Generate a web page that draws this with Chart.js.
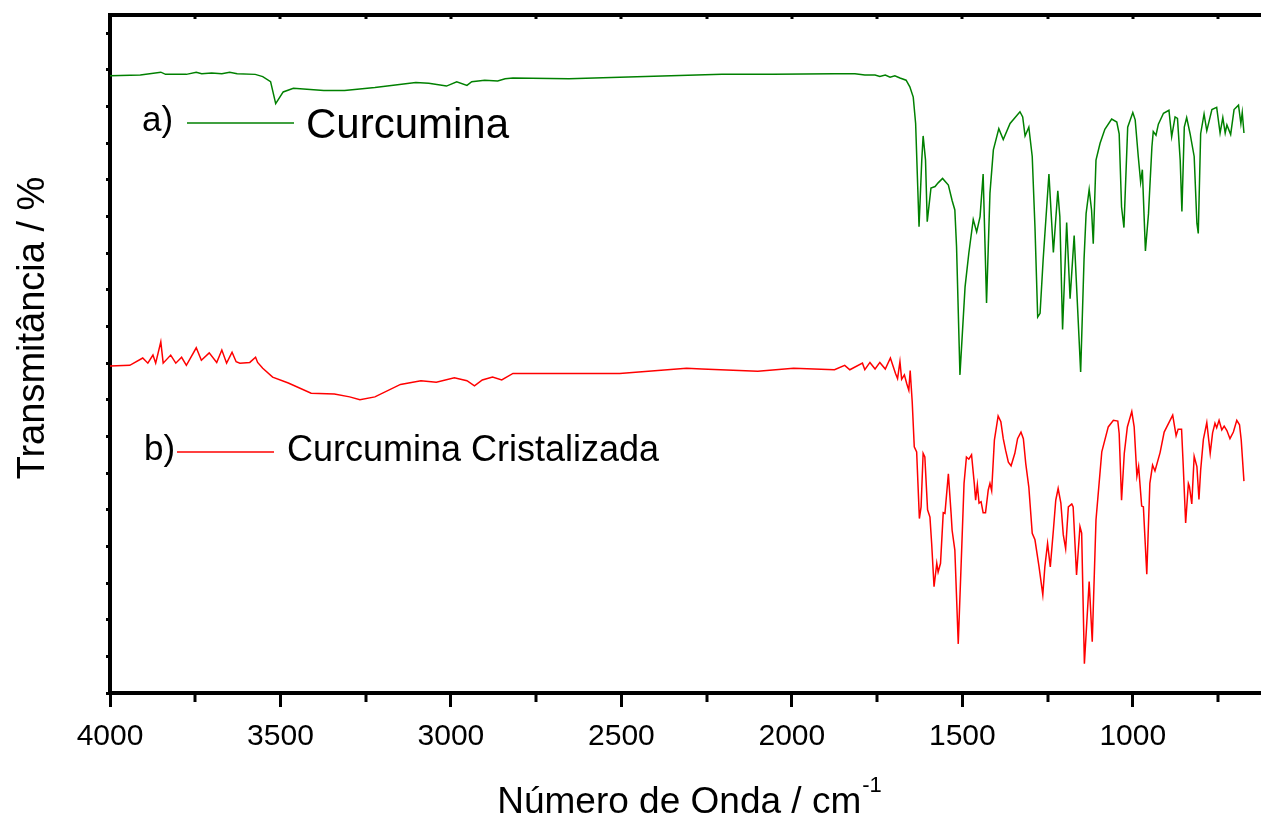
<!DOCTYPE html>
<html>
<head>
<meta charset="utf-8">
<title>Espectro FTIR - Curcumina</title>
<script src="https://cdn.jsdelivr.net/npm/chart.js@4.4.0/dist/chart.umd.min.js"></script>
<style>
  html, body { margin: 0; padding: 0; background: #fff; }
  #wrap { width: 1261px; height: 818px; }
</style>
</head>
<body>
<div id="wrap"><canvas id="chart" width="1261" height="818"></canvas></div>
<script>
// FTIR spectra (wavenumber in cm-1, transmittance in arbitrary %)
const greenWn = [
  4000,3911,3851,3837,3776,3747,3731,3702,3672,3649,
  3627,3574,3552,3529,3514,3492,3462,3373,3312,3223,
  3103,3065,3013,2983,2953,2939,2901,2863,2841,2818,
  2654,2505,2355,2205,2056,1875,1815,1786,1756,1742,
  1726,1712,1698,1683,1665,1654,1644,1637,1627,1619,
  1615,1608,1603,1592,1580,1571,1558,1541,1530,1522,
  1517,1507,1492,1481,1468,1458,1448,1439,1429,1419,
  1409,1393,1380,1360,1331,1323,1316,1305,1295,1287,
  1279,1272,1263,1246,1233,1220,1214,1206,1194,1184,
  1172,1153,1143,1137,1128,1121,1116,1108,1096,1082,
  1062,1047,1040,1033,1026,1015,1000,993,984,977,
  972,963,954,944,940,932,925,910,894,886,
  876,869,861,856,849,842,832,820,812,808,
  801,791,783,768,754,744,736,729,724,713,
  703,690,683,679,674
];
const greenT = [
  84.2,84.3,84.7,84.4,84.4,84.7,84.5,84.6,84.5,84.7,
  84.5,84.4,84.1,83.4,80.4,82.0,82.5,82.2,82.2,82.6,
  83.3,83.2,82.8,83.4,82.9,83.4,83.6,83.5,83.8,83.9,
  83.8,84.0,84.2,84.4,84.4,84.5,84.5,84.3,84.3,84.1,
  84.3,84.0,84.2,83.9,83.6,82.7,81.3,77.7,63.6,72.7,
  76.0,72.7,64.3,68.9,69.1,69.6,70.2,69.3,67.2,65.9,
  60.9,43.4,55.4,60.0,64.6,62.9,65.0,70.8,53.2,68.2,
  74.1,77.0,75.5,77.7,79.3,78.6,76.0,77.2,73.2,63.6,
  51.3,51.8,59.1,70.8,60.1,68.5,65.0,49.6,64.2,53.8,
  62.4,43.8,59.2,65.4,68.7,65.9,61.3,72.7,75.0,76.9,
  78.3,77.9,76.3,66.3,63.5,77.2,79.2,78.2,73.2,69.7,
  71.4,60.3,65.4,74.5,76.6,76.1,77.6,79.1,79.5,75.9,
  78.6,78.4,72.7,65.7,77.2,78.5,76.3,73.2,64.1,62.7,
  76.3,79.0,76.7,79.6,79.9,76.4,78.5,76.4,77.5,76.2,
  79.6,80.2,77.7,79.2,76.4
];

const redWn = [
  4000,3942,3904,3889,3874,3866,3851,3844,3822,3807,
  3790,3776,3747,3732,3709,3687,3672,3658,3642,3630,
  3619,3590,3573,3567,3552,3523,3477,3410,3342,3297,
  3267,3223,3148,3088,3043,2990,2953,2931,2908,2878,
  2851,2818,2654,2505,2309,2264,2100,1995,1875,1845,
  1830,1793,1786,1771,1756,1742,1726,1711,1696,1690,
  1683,1678,1670,1663,1657,1653,1647,1641,1634,1626,
  1621,1615,1610,1602,1595,1590,1583,1575,1571,1564,
  1556,1551,1541,1533,1530,1522,1512,1502,1495,1488,
  1481,1473,1465,1461,1456,1451,1445,1439,1432,1424,
  1419,1414,1406,1395,1387,1380,1373,1365,1357,1346,
  1338,1328,1321,1314,1305,1295,1287,1275,1264,1258,
  1250,1242,1233,1226,1219,1211,1204,1197,1189,1179,
  1175,1165,1155,1150,1142,1128,1119,1108,1091,1072,
  1057,1044,1040,1033,1025,1016,1003,996,988,983,
  974,969,959,950,942,935,920,908,883,873,
  867,857,852,845,837,834,827,820,812,806,
  801,793,783,773,766,759,754,747,739,732,
  724,715,705,695,687,682,674
];
const redT = [
  44.6,44.7,45.7,45.0,46.1,45.0,47.9,45.0,46.1,45.0,
  45.8,44.7,47.1,45.4,46.4,45.1,46.8,45.0,46.5,45.2,
  45.0,45.1,45.8,45.1,44.3,43.1,42.3,40.9,40.8,40.4,
  40.0,40.4,42.1,42.6,42.4,43.0,42.6,41.9,42.7,43.1,
  42.7,43.6,43.6,43.6,44.3,44.2,43.9,44.3,44.1,44.7,
  44.1,45.0,44.1,45.1,44.2,45.1,44.2,45.7,43.6,42.9,
  45.2,42.8,43.4,42.2,41.3,44.0,39.7,33.6,32.9,23.8,
  25.4,32.7,32.2,25.0,24.0,20.4,14.5,17.7,16.5,17.7,
  24.6,24.5,29.9,24.5,22.2,19.5,6.7,19.5,28.6,32.2,
  31.9,32.5,28.6,26.3,28.4,25.9,26.1,24.6,24.6,27.7,
  28.6,27.6,34.5,37.8,37.0,34.7,33.1,31.5,31.0,32.7,
  34.7,35.6,34.7,31.3,28.1,21.8,20.9,17.2,13.4,17.2,
  20.4,17.2,22.2,26.3,27.9,25.9,21.6,19.7,25.4,25.8,
  25.4,16.1,22.7,21.8,4.0,15.2,7.0,23.6,32.9,36.3,
  37.2,37.1,35.4,26.3,32.7,36.3,38.4,36.3,29.6,30.9,
  25.5,25.4,16.2,28.6,31.1,30.3,32.8,35.6,37.9,35.1,
  36.0,36.0,30.9,23.2,28.6,28.2,25.8,32.3,30.9,26.4,
  30.4,34.6,36.9,32.7,35.5,36.8,36.2,37.2,35.9,36.4,
  35.8,34.7,35.6,37.2,36.6,34.5,28.9
];

const majorTicks = [4000, 3500, 3000, 2500, 2000, 1500, 1000];
const minorTicks = [3750, 3250, 2750, 2250, 1750, 1250, 750];
const seriesNames = ['Curcumina', 'Curcumina Cristalizada'];
const seriesTags = ['a)', 'b)'];
const yTitle = 'Transmitância / %';
const xTitle = 'Número de Onda / cm';
const xTitleSup = '-1';

const FONT = '"Liberation Sans", Arial, Helvetica, sans-serif';
const GREEN = '#008000';
const RED = '#ff0000';

function toPoints(xs, ys) {
  return xs.map((v, i) => ({ x: v, y: ys[i] }));
}

// draws minor/top ticks, axis titles and the in-plot legend
const decorPlugin = {
  id: 'decor',
  afterDraw(chart) {
    const ctx = chart.ctx;
    const xs = chart.scales.x;
    const area = chart.chartArea;
    ctx.save();

    // bottom minor ticks and small top ticks
    ctx.strokeStyle = '#000';
    ctx.lineWidth = 3;
    minorTicks.forEach(v => {
      const px = Math.round(xs.getPixelForValue(v));
      ctx.beginPath();
      ctx.moveTo(px, area.bottom);
      ctx.lineTo(px, area.bottom + 9);
      ctx.stroke();
    });
    majorTicks.concat(minorTicks).forEach(v => {
      const px = Math.round(xs.getPixelForValue(v));
      ctx.beginPath();
      ctx.moveTo(px, area.top);
      ctx.lineTo(px, area.top + 4);
      ctx.stroke();
    });

    ctx.fillStyle = '#000';
    ctx.textBaseline = 'alphabetic';

    // y title
    ctx.save();
    ctx.translate(44, 328);
    ctx.rotate(-Math.PI / 2);
    ctx.font = '38px ' + FONT;
    ctx.textAlign = 'center';
    ctx.fillText(yTitle, 0, 0);
    ctx.restore();

    // x title with superscript
    ctx.font = '37px ' + FONT;
    const w1 = ctx.measureText(xTitle).width;
    ctx.font = '22px ' + FONT;
    const w2 = ctx.measureText(xTitleSup).width;
    const startX = 689 - (w1 + w2) / 2;
    ctx.textAlign = 'left';
    ctx.font = '37px ' + FONT;
    ctx.fillText(xTitle, startX, 813);
    ctx.font = '22px ' + FONT;
    ctx.fillText(xTitleSup, startX + w1 + 1, 792);

    // legend a)
    ctx.font = '35px ' + FONT;
    ctx.fillText(seriesTags[0], 142, 131);
    ctx.strokeStyle = GREEN;
    ctx.lineWidth = 1.5;
    ctx.beginPath();
    ctx.moveTo(187, 123);
    ctx.lineTo(294, 123);
    ctx.stroke();
    ctx.font = '42px ' + FONT;
    ctx.fillText(seriesNames[0], 306, 138);

    // legend b)
    ctx.font = '35px ' + FONT;
    ctx.fillText(seriesTags[1], 144, 460);
    ctx.strokeStyle = RED;
    ctx.beginPath();
    ctx.moveTo(177, 452);
    ctx.lineTo(274, 452);
    ctx.stroke();
    ctx.font = '36px ' + FONT;
    ctx.fillText(seriesNames[1], 287, 461);

    ctx.restore();
  }
};

new Chart(document.getElementById('chart'), {
  type: 'line',
  data: {
    datasets: [
      {
        label: seriesNames[0],
        data: toPoints(greenWn, greenT),
        borderColor: GREEN,
        borderWidth: 1.5,
        pointRadius: 0,
        tension: 0,
        fill: false
      },
      {
        label: seriesNames[1],
        data: toPoints(redWn, redT),
        borderColor: RED,
        borderWidth: 1.5,
        pointRadius: 0,
        tension: 0,
        fill: false
      }
    ]
  },
  options: {
    responsive: false,
    animation: false,
    devicePixelRatio: 1,
    layout: { padding: 0 },
    plugins: {
      legend: { display: false },
      tooltip: { enabled: false }
    },
    scales: {
      x: {
        type: 'linear',
        position: 'bottom',
        reverse: true,
        min: 624,
        max: 4000,
        afterBuildTicks: axis => { axis.ticks = majorTicks.map(v => ({ value: v })); },
        afterFit: axis => { axis.height = 125; },
        grid: { drawOnChartArea: false, drawTicks: true, tickLength: 14, tickWidth: 3, tickColor: '#000', color: '#000' },
        border: { display: true, color: '#000', width: 4 },
        ticks: {
          color: '#000',
          font: { family: FONT, size: 30 },
          padding: 12,
          maxRotation: 0,
          autoSkip: false,
          callback: v => String(v)
        }
      },
      xTop: {
        type: 'linear',
        position: 'top',
        reverse: true,
        min: 624,
        max: 4000,
        afterFit: axis => { axis.height = 15; },
        grid: { drawOnChartArea: false, drawTicks: false },
        border: { display: true, color: '#000', width: 4 },
        ticks: { display: false }
      },
      y: {
        type: 'linear',
        min: 0,
        max: 92.5,
        afterBuildTicks: axis => {
          const t = [];
          for (let v = 0; v <= 90; v += 5) t.push({ value: v });
          axis.ticks = t;
        },
        afterFit: axis => { axis.width = 110; },
        grid: { drawOnChartArea: false, drawTicks: true, tickLength: 4, tickWidth: 3, tickColor: '#000' },
        border: { display: true, color: '#000', width: 4 },
        ticks: { display: false }
      }
    }
  },
  plugins: [decorPlugin]
});
</script>
</body>
</html>
